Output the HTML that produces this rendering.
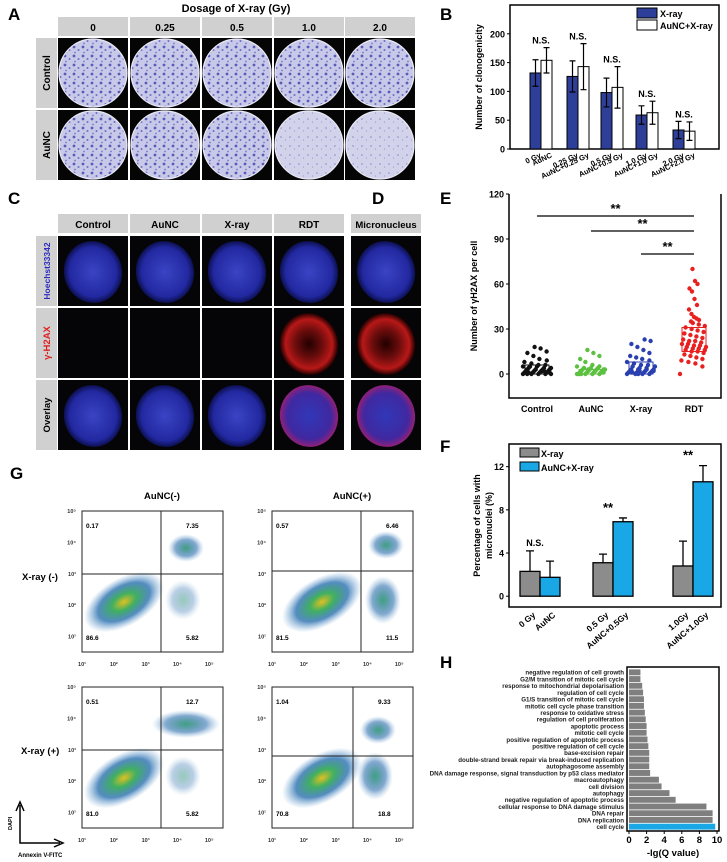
<!DOCTYPE html>
<html><head><meta charset="utf-8"><style>
html,body{margin:0;padding:0;background:#fff}
svg{display:block;font-family:"Liberation Sans",Arial,sans-serif}
text{font-weight:bold}
</style></head><body>
<svg id="fig" width="727" height="862" viewBox="0 0 727 862" xmlns="http://www.w3.org/2000/svg">
<defs>
<pattern id="colonies" width="9" height="9" patternUnits="userSpaceOnUse">
<rect width="9" height="9" fill="#c8c8e8"/>
<circle cx="2" cy="2" r="1.4" fill="#5a5ab8"/><circle cx="6.5" cy="5" r="1" fill="#6d6dc2"/><circle cx="3" cy="7.5" r="0.9" fill="#7a7ac8"/>
</pattern>
<pattern id="colonies2" width="9" height="9" patternUnits="userSpaceOnUse">
<rect width="9" height="9" fill="#d2d2ea"/>
<circle cx="2" cy="2" r="0.8" fill="#8a8ad0"/><circle cx="6.5" cy="5" r="0.6" fill="#9a9ad4"/>
</pattern>
<radialGradient id="nucleus"><stop offset="0" stop-color="#3a44c4"/><stop offset="0.8" stop-color="#2228a0"/><stop offset="1" stop-color="#0c1050"/></radialGradient>
<radialGradient id="redfoci"><stop offset="0" stop-color="#200" /><stop offset="0.45" stop-color="#6a0c0c"/><stop offset="0.8" stop-color="#b81818"/><stop offset="1" stop-color="#200"/></radialGradient>
<radialGradient id="overlayR"><stop offset="0" stop-color="#3038b8"/><stop offset="0.75" stop-color="#4028a0"/><stop offset="1" stop-color="#902078"/></radialGradient>
<radialGradient id="blob"><stop offset="0" stop-color="#e0c020"/><stop offset="0.3" stop-color="#40b060"/><stop offset="0.65" stop-color="#2a70b0" stop-opacity="0.8"/><stop offset="1" stop-color="#6aa0d0" stop-opacity="0"/></radialGradient>
<radialGradient id="blob2"><stop offset="0" stop-color="#40a080"/><stop offset="0.6" stop-color="#3070b0" stop-opacity="0.6"/><stop offset="1" stop-color="#80b0d8" stop-opacity="0"/></radialGradient>
</defs>
<g id="root"></g>
</svg>
<script>
// ---------- Panel B data ----------
const bCats = ["0 Gy","AuNC","0.25 Gy","AuNC+0.25 Gy","0.5 Gy","AuNC+0.5 Gy","1.0 Gy","AuNC+1.0 Gy","2.0 Gy","AuNC+2.0 Gy"];
const bXray = [132,126,98,59,33];
const bAuNC = [154,143,107,63,31];
const bXrayErr = [23,27,25,16,15];
const bAuNCErr = [22,40,36,20,16];
const bTicks = [0,50,100,150,200];
// ---------- Panel E data ----------
const eGroups = ["Control","AuNC","X-ray","RDT"];
const eControl = [0,0,0,0,1,1,1,1,2,2,2,2,3,3,3,3,4,4,4,5,5,5,6,6,7,8,9,10,12,14,15,17,18,0,1,2,3,1,0,2];
const eAuNC = [0,0,0,0,0,1,1,1,1,2,2,2,2,3,3,3,3,3,4,4,4,5,5,6,8,10,12,14,16,0,1,2,3,0,1];
const eXray = [0,0,0,0,1,1,1,1,2,2,2,3,3,3,4,4,5,5,6,6,7,8,9,10,11,12,14,16,18,20,22,23,0,1,2,3,2,1];
const eRDT = [0,5,7,8,9,10,11,12,13,14,15,15,16,16,17,17,18,18,19,19,20,20,21,22,22,23,24,25,26,27,28,29,30,31,32,33,34,35,36,37,38,40,43,46,50,55,57,60,62,70];
const eBoxes = [[0,6],[0,3],[0,8],[15,31]];
const eTicks = [0,30,60,90,120];
// ---------- Panel F data ----------
const fCats = ["0 Gy","AuNC","0.5 Gy","AuNC+0.5Gy","1.0Gy","AuNC+1.0Gy"];
const fXray = [2.3,3.1,2.8];
const fAuNC = [1.75,6.9,10.6];
const fXrayErr = [1.9,0.8,2.3];
const fAuNCErr = [1.5,0.35,1.5];
const fSig = ["N.S.","**","**"];
const fTicks = [0,4,8,12];
// ---------- Panel H data ----------
const hTerms = ["negative regulation of cell growth","G2/M transition of mitotic cell cycle","response to mitochondrial depolarisation","regulation of cell cycle","G1/S transition of mitotic cell cycle","mitotic cell cycle phase transition","response to oxidative stress","regulation of cell proliferation","apoptotic process","mitotic cell cycle","positive regulation of apoptotic process","positive regulation of cell cycle","base-excision repair","double-strand break repair via break-induced replication","autophagosome assembly","DNA damage response, signal transduction by p53 class mediator","macroautophagy","cell division","autophagy","negative regulation of apoptotic process","cellular response to DNA damage stimulus","DNA repair","DNA replication","cell cycle"];
const hValues = [1.3,1.3,1.5,1.6,1.7,1.7,1.8,1.9,2.0,2.0,2.1,2.2,2.3,2.3,2.3,2.4,3.4,3.7,4.6,5.3,8.8,9.5,9.5,9.8];
const hTicks = [0,2,4,6,8,10];
// ---------- Panel G data ----------
const gPercents = [["0.17","7.35","86.6","5.82"],["0.57","6.46","81.5","11.5"],["0.51","12.7","81.0","5.82"],["1.04","9.33","70.8","18.8"]];

const NS="http://www.w3.org/2000/svg";
const root=document.getElementById('root');
function mk(tag,attrs,parent,txt){const e=document.createElementNS(NS,tag);for(const k in attrs)e.setAttribute(k,attrs[k]);if(txt!==undefined)e.textContent=txt;(parent||root).appendChild(e);return e;}
function grp(parent){return mk('g',{},parent);}
let t;

const letters=[["A",8,20],["B",440,20],["C",8,204],["D",372,204],["E",440,204],["F",440,452],["G",10,479],["H",440,668]];
for(const L of letters){t=mk('text',{x:L[1],y:L[2],'font-size':17},root,L[0]);

}

// ---------- Panel A ----------
const colX=[58,130,202,274,345], colW=70;
const gA=grp();  
t=mk('text',{x:236,y:12,'font-size':11,'text-anchor':'middle'},gA,"Dosage of X-ray (Gy)");
 
const doses=["0","0.25","0.5","1.0","2.0"];
doses.forEach((d,i)=>{
 const r=mk('rect',{x:colX[i],y:17,width:colW,height:19,fill:'#d0d0d0'},gA);
  
 t=mk('text',{x:colX[i]+colW/2,y:31,'font-size':10,'text-anchor':'middle'},gA,d);
  
});
["Control","AuNC"].forEach((lab,ri)=>{
 const y0=38+ri*72;
 const r=mk('rect',{x:36,y:y0,width:21,height:70,fill:'#d0d0d0'},gA);
  
 t=mk('text',{x:0,y:0,'font-size':10,'text-anchor':'middle',transform:`translate(50,${y0+35}) rotate(-90)`},gA,lab);
  
 colX.forEach((x,ci)=>{
  const b=mk('rect',{x:x,y:y0,width:colW,height:70,fill:'#050505'},gA);
   
  const faint = (ri===1&&ci>=3);
  const c=mk('circle',{cx:x+35,cy:y0+35,r:34,fill:faint?'url(#colonies2)':'url(#colonies)',stroke:'#e8e8f5','stroke-width':1.2},gA);
   
 });
});

// ---------- Panel C/D ----------
const gC=grp();  
const cCols=[58,130,202,274,351], cHeads=["Control","AuNC","X-ray","RDT","Micronucleus"];
cCols.forEach((x,i)=>{
 const r=mk('rect',{x:x,y:214,width:70,height:19,fill:'#d0d0d0'},gC);
  
 t=mk('text',{x:x+35,y:228,'font-size':i==4?9.5:10,'text-anchor':'middle'},gC,cHeads[i]);
  
});
const rowY=[236,308,380], rowLab=["Hoechst33342","γ-H2AX","Overlay"], rowCol=["#2b2bc0","#e02020","#000"];
rowY.forEach((y0,ri)=>{
 const r=mk('rect',{x:36,y:y0,width:21,height:70,fill:'#d0d0d0'},gC);
  
 t=mk('text',{x:0,y:0,'font-size':ri==0?8.5:9.5,fill:rowCol[ri],'text-anchor':'middle',transform:`translate(50,${y0+35}) rotate(-90)`},gC,rowLab[ri]);
  
 cCols.forEach((x,ci)=>{
  const b=mk('rect',{x:x,y:y0,width:70,height:70,fill:'#050508'},gC);
   
  let fill=null;
  if(ri===0) fill='url(#nucleus)';
  if(ri===1 && ci>=3) fill='url(#redfoci)';
  if(ri===2) fill= ci>=3?'url(#overlayR)':'url(#nucleus)';
  if(fill){const e=mk('ellipse',{cx:x+35,cy:y0+36,rx:29,ry:31,fill:fill,transform:`rotate(-15 ${x+35} ${y0+36})`},gC);
    }
 });
});

// ---------- Panel B chart ----------
(function(){
 const g=grp();  
 const L=510,R=719,T=5,B=149, ymax=250;
 const y=v=>B-(v/ymax)*(B-T);
 const centers=[541,578,612,647,684], bw=11;
 const ax=mk('rect',{x:L,y:T,width:R-L,height:B-T,fill:'none',stroke:'#000','stroke-width':1.5},g);
  
 bTicks.forEach(v=>{
  const l=mk('line',{x1:L-3,x2:L,y1:y(v),y2:y(v),stroke:'#000'},g);
   
  t=mk('text',{x:L-5,y:y(v)+3.5,'font-size':9,'text-anchor':'end'},g,v);
   
 });
 t=mk('text',{x:0,y:0,'font-size':9,'text-anchor':'middle',transform:`translate(482,${(T+B)/2}) rotate(-90)`},g,"Number of clonogenicity");
  
 centers.forEach((c,i)=>{
  const r1=mk('rect',{x:c-bw,y:y(bXray[i]),width:bw,height:B-y(bXray[i]),fill:'#2e3f99',stroke:'#000','stroke-width':1},g);
   
  const r2=mk('rect',{x:c,y:y(bAuNC[i]),width:bw,height:B-y(bAuNC[i]),fill:'#fff',stroke:'#000','stroke-width':1},g);
   
  [[c-bw/2,bXray[i],bXrayErr[i]],[c+bw/2,bAuNC[i],bAuNCErr[i]]].forEach(e=>{
   const p=mk('path',{d:`M${e[0]},${y(e[1]-e[2])}V${y(e[1]+e[2])}M${e[0]-3},${y(e[1]-e[2])}h6M${e[0]-3},${y(e[1]+e[2])}h6`,stroke:'#000','stroke-width':1.2,fill:'none'},g);
    
  });
  const top=Math.max(bXray[i]+bXrayErr[i],bAuNC[i]+bAuNCErr[i]);
  t=mk('text',{x:c,y:y(top)-4,'font-size':9,'text-anchor':'middle'},g,"N.S.");
   
  [0,1].forEach(k=>{
   const xx=c+(k?bw/2:-bw/2);
   t=mk('text',{x:0,y:0,'font-size':7.5,'text-anchor':'end',transform:`translate(${xx+6},${B+8}) rotate(-25)`},g,bCats[i*2+k]);
    
  });
 });
 const lg=grp(g);  
 let r=mk('rect',{x:637,y:8,width:20,height:10,fill:'#2e3f99',stroke:'#000'},lg);  
 t=mk('text',{x:660,y:17,'font-size':9},lg,"X-ray");  
 r=mk('rect',{x:637,y:20,width:20,height:10,fill:'#fff',stroke:'#000'},lg);  
 t=mk('text',{x:660,y:29,'font-size':9},lg,"AuNC+X-ray");  
})();

// ---------- Panel E chart ----------
(function(){
 const g=grp();  
 const L=509,R=721,T=194,B=398, vmin=-16, vmax=120;
 const y=v=>B-(v-vmin)/(vmax-vmin)*(B-T);
 const xs=[537,591,641,694];
 const ax=mk('path',{d:`M${L},${T}V${B}H${R}V${T}`,fill:'none',stroke:'#000','stroke-width':1.5},g);
  
 eTicks.forEach(v=>{
  const l=mk('line',{x1:L-3,x2:L,y1:y(v),y2:y(v),stroke:'#000'},g);  
  t=mk('text',{x:L-5,y:y(v)+3.5,'font-size':9,'text-anchor':'end'},g,v);  
 });
 t=mk('text',{x:0,y:0,'font-size':9,'text-anchor':'middle',transform:`translate(477,${(T+B)/2}) rotate(-90)`},g,"Number of γH2AX per cell");
  
 const sets=[eControl,eAuNC,eXray,eRDT], cols=['#111','#5cc040','#2a3fb0','#e82020'];
 sets.forEach((arr,gi)=>{
  const x=xs[gi];
  const bx=mk('rect',{x:x-12,y:y(eBoxes[gi][1]),width:24,height:y(eBoxes[gi][0])-y(eBoxes[gi][1]),fill:'none',stroke:cols[gi],'stroke-width':1},g);
   
  arr.forEach((v,i)=>{
   const spread = v<10?14:(v<35?12:5);
   const j=(((i*37)%21)-10)/10*spread;
   const c=mk('circle',{cx:x+j,cy:y(v),r:2.2,fill:cols[gi]},g);
    
  });
  t=mk('text',{x:x,y:412,'font-size':9,'text-anchor':'middle'},g,eGroups[gi]);
   
 });
 [[0,216],[1,231],[2,254]].forEach(s=>{
  const l=mk('line',{x1:xs[s[0]],x2:xs[3],y1:s[1],y2:s[1],stroke:'#000','stroke-width':1.3},g);
   
  t=mk('text',{x:(xs[s[0]]+xs[3])/2,y:s[1]-3,'font-size':13,'text-anchor':'middle'},g,"**");
   
 });
})();

// ---------- Panel F chart ----------
(function(){
 const g=grp();  
 const L=509,R=721,T=444,B=607, vmin=-1, vmax=14.1;
 const y=v=>B-(v-vmin)/(vmax-vmin)*(B-T);
 const cs=[540,613,693], bw=20;
 const ax=mk('rect',{x:L,y:T,width:R-L,height:B-T,fill:'none',stroke:'#000','stroke-width':1.5},g);
  
 fTicks.forEach(v=>{
  const l=mk('line',{x1:L-3,x2:L,y1:y(v),y2:y(v),stroke:'#000'},g);  
  t=mk('text',{x:L-5,y:y(v)+3.5,'font-size':9,'text-anchor':'end'},g,v);  
 });
 t=mk('text',{x:0,y:0,'font-size':9,'text-anchor':'middle',transform:`translate(480,${(T+B)/2}) rotate(-90)`},g,"Percentage of cells with");
  
 t=mk('text',{x:0,y:0,'font-size':9,'text-anchor':'middle',transform:`translate(492,${(T+B)/2}) rotate(-90)`},g,"micronuclei (%)");
  
 cs.forEach((c,i)=>{
  const r1=mk('rect',{x:c-bw,y:y(fXray[i]),width:bw,height:y(0)-y(fXray[i]),fill:'#8c8c8c',stroke:'#000','stroke-width':1.3},g);
   
  const r2=mk('rect',{x:c,y:y(fAuNC[i]),width:bw,height:y(0)-y(fAuNC[i]),fill:'#1aa7e6',stroke:'#000','stroke-width':1.3},g);
   
  [[c-bw/2,fXray[i],fXrayErr[i]],[c+bw/2,fAuNC[i],fAuNCErr[i]]].forEach(e=>{
   const p=mk('path',{d:`M${e[0]},${y(e[1])}V${y(e[1]+e[2])}M${e[0]-4},${y(e[1]+e[2])}h8`,stroke:'#000','stroke-width':1.3,fill:'none'},g);
    
  });
  const top=Math.max(fXray[i]+fXrayErr[i],fAuNC[i]+fAuNCErr[i]);
  const isNS=fSig[i]==="N.S.";
  t=mk('text',{x:c-5,y:y(top)-(isNS?5:6),'font-size':isNS?9:13,'text-anchor':'middle'},g,fSig[i]);
   
  [0,1].forEach(k=>{
   const xx=c+(k?bw/2:-bw/2);
   t=mk('text',{x:0,y:0,'font-size':8.5,'text-anchor':'end',transform:`translate(${xx+6},${B+9}) rotate(-40)`},g,fCats[i*2+k]);
    
  });
 });
 const lg=grp(g);  
 let r=mk('rect',{x:520,y:448,width:19,height:9,fill:'#8c8c8c',stroke:'#000'},lg);  
 t=mk('text',{x:541,y:457,'font-size':9},lg,"X-ray");  
 r=mk('rect',{x:520,y:462,width:19,height:9,fill:'#1aa7e6',stroke:'#000'},lg);  
 t=mk('text',{x:541,y:471,'font-size':9},lg,"AuNC+X-ray");  
})();

// ---------- Panel H chart ----------
(function(){
 const g=grp();  
 const L=627,R=719,T=667,B=831, x0=629, x10=717;
 const x=v=>x0+v/10*(x10-x0);
 const n=hTerms.length, step=(B-T-3)/n;
 hTerms.forEach((term,i)=>{
  const yy=T+2+i*step;
  const r=mk('rect',{x:x(0),y:yy+0.4,width:x(hValues[i])-x(0),height:step-0.8,fill:i===n-1?'#1aa7e6':'#7f7f7f'},g);
   
  t=mk('text',{x:L-3,y:yy+step-1,'font-size':6.2,'text-anchor':'end',fill:'#222'},g,term);
   
 });
 const ax=mk('rect',{x:L,y:T,width:R-L,height:B-T,fill:'none',stroke:'#000','stroke-width':1.5},g);
  
 hTicks.forEach(v=>{
  const l=mk('line',{x1:x(v),x2:x(v),y1:B,y2:B+3,stroke:'#000'},g);  
  t=mk('text',{x:x(v),y:B+12,'font-size':9.5,'text-anchor':'middle'},g,v);  
 });
 t=mk('text',{x:(L+R)/2,y:856,'font-size':9.5,'text-anchor':'middle'},g,"-lg(Q value)");
  
})();

// ---------- Panel G flow cytometry ----------
(function(){
 const g=grp();  
 t=mk('text',{x:162,y:499,'font-size':9.5,'text-anchor':'middle'},g,"AuNC(-)");  
 t=mk('text',{x:352,y:499,'font-size':9.5,'text-anchor':'middle'},g,"AuNC(+)");  
 t=mk('text',{x:22,y:580,'font-size':9.5},g,"X-ray (-)");  
 t=mk('text',{x:21,y:754,'font-size':9.5},g,"X-ray (+)");  
 const plots=[[82,511,161,574],[272,511,361,571],[82,687,161,750],[272,687,353,756]];
 const sup=["¹","²","³","⁴","⁵"];
 plots.forEach((p,pi)=>{
  const [L,T,vx,hy]=p, W=141, H=141, B=T+H;
  const pg=grp(g);  
  const dx=pi%2?8:0;
  let e=mk('ellipse',{cx:L+42+dx,cy:B-50,rx:44,ry:24,fill:'url(#blob)',transform:`rotate(-30 ${L+42+dx} ${B-50})`},pg);
   
  e=mk('ellipse',{cx:vx+25,cy:hy-26,rx:pi==2?34:18,ry:14,fill:'url(#blob2)'},pg);
   
  e=mk('ellipse',{cx:vx+22,cy:B-52,rx:18,ry:pi%2?24:20,fill:'url(#blob2)',opacity:pi%2?1:0.55},pg);
   
  const fr=mk('rect',{x:L,y:T,width:W,height:H,fill:'none',stroke:'#222','stroke-width':1},pg);
   
  const q=mk('path',{d:`M${vx},${T}V${B}M${L},${hy}H${L+W}`,stroke:'#222','stroke-width':1},pg);
   
  const pc=gPercents[pi];
  [[L+4,T+17,pc[0]],[vx+25,T+17,pc[1]],[L+4,B-12,pc[2]],[vx+25,B-12,pc[3]]].forEach(a=>{
   t=mk('text',{x:a[0],y:a[1],'font-size':6.5},pg,a[2]);  
  });
  for(let k=0;k<5;k++){
   t=mk('text',{x:L-6,y:T+2+k*31.4,'font-size':5.5,'text-anchor':'end',fill:'#333','font-weight':'normal'},pg,"10"+sup[4-k]);
    
   t=mk('text',{x:L+k*31.8,y:B+14,'font-size':5.5,'text-anchor':'middle',fill:'#333','font-weight':'normal'},pg,"10"+sup[k]);
    
  }
 });
 const ar=mk('path',{d:'M20,805V843H60M16,811L20,802L24,811M54,839L63,843L54,847',stroke:'#000','stroke-width':1.5,fill:'none'},g);
  
 t=mk('text',{x:0,y:0,'font-size':5.5,transform:'translate(12,830) rotate(-90)'},g,"DAPI");  
 t=mk('text',{x:18,y:857,'font-size':6},g,"Annexin V-FITC");  
})();
</script>
</body></html>
